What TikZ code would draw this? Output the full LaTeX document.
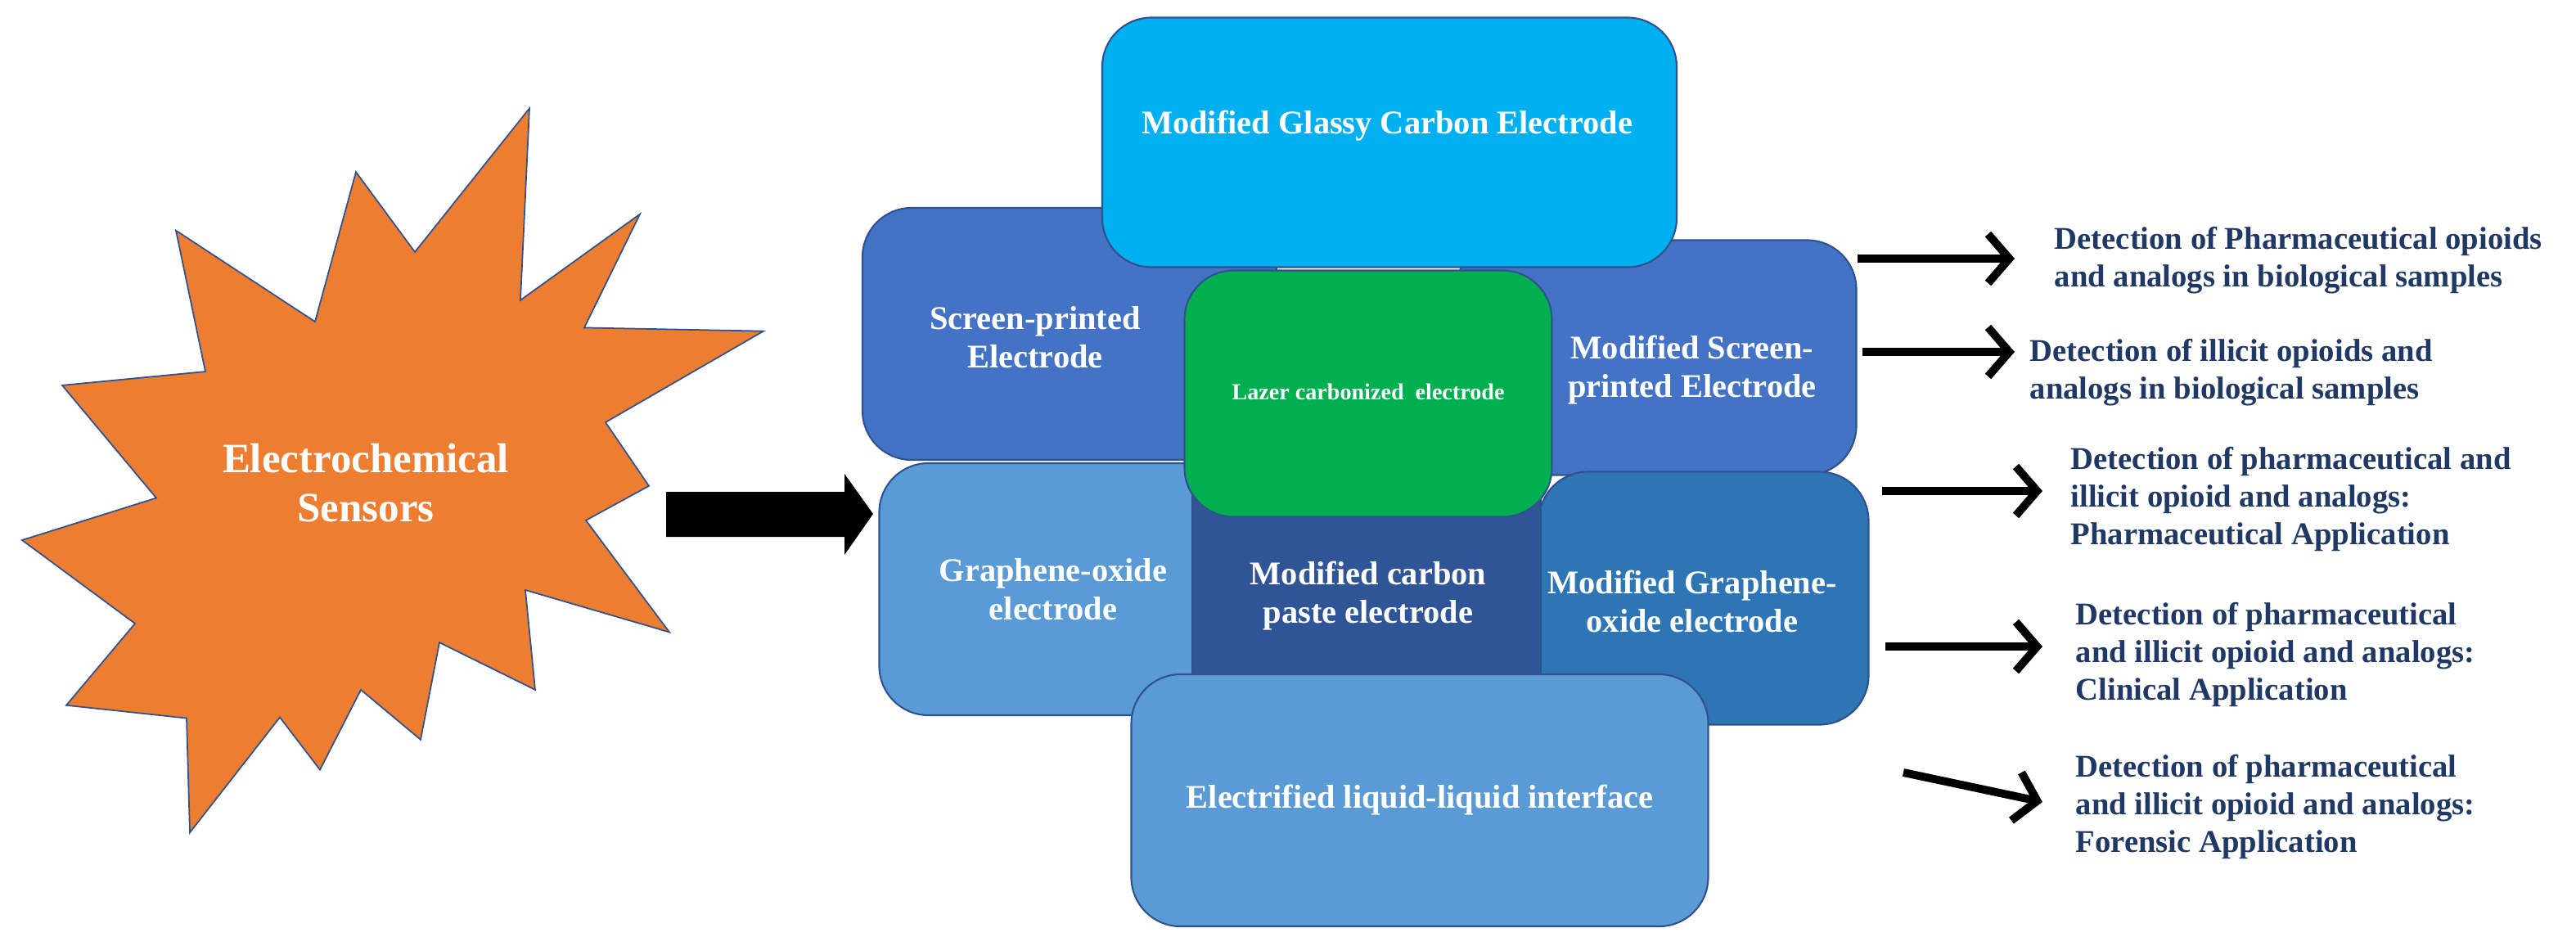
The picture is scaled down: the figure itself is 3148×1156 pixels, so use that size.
\documentclass[tikz,border=0pt]{standalone}
\usepackage{fontspec}
\setmainfont{Liberation Serif}
\usetikzlibrary{arrows.meta}
\definecolor{cGlassy}{HTML}{00B0F0}
\definecolor{cSP}{HTML}{4472C4}
\definecolor{cGreen}{HTML}{00B050}
\definecolor{cGO}{HTML}{5B9BD5}
\definecolor{cCP}{HTML}{2F5597}
\definecolor{cMGO}{HTML}{2E75B6}
\definecolor{cEdge}{HTML}{2F528F}
\definecolor{cStar}{HTML}{ED7D31}
\definecolor{cTxt}{HTML}{1F3864}
\begin{document}
\begin{tikzpicture}[x=0.1mm,y=-0.1mm,
 box/.style={draw=cEdge,line width=0.6pt,rounded corners=6mm,inner sep=0,outer sep=0},
 wt/.style={text=white,font=\bfseries\fontsize{11.5}{13.5}\selectfont,align=center},
 rt/.style={text=cTxt,font=\bfseries\fontsize{11}{13.2}\selectfont,align=left,anchor=west,inner sep=0},
 ar/.style={line width=2.8pt,-{Straight Barb[length=2.6mm,width=6mm,line width=2.8pt]}}]
\useasboundingbox (0,0) rectangle (3148,1156);
% star
\begin{scope}[yscale=1.051]
\filldraw[fill=cStar,draw=cEdge,line width=0.5pt] (647,126)--(636,349)--(782,249)--(714,381)--(933,385)--(740,491)--(793,565)--(716,605)--(818,735)--(642,686)--(654,802)--(537,747)--(514,860)--(441,802)--(391,895)--(342,834)--(232,968)--(228,835)--(81,820)--(165,725)--(27,628)--(191,579)--(76,448)--(251,432)--(215,268)--(385,374)--(435,200)--(507,293)--cycle;
\end{scope}
\node[text=white,font=\bfseries\fontsize{14.5}{17}\selectfont,align=center] (star) at (447,590) {Electrochemical\\Sensors};
% big arrow
\fill[black] (814,601)--(1032,601)--(1032,579)--(1067,628)--(1032,678)--(1032,656)--(814,656)--cycle;
% boxes
\node[box,fill=cSP,minimum width=50.6mm,minimum height=30.8mm] (sp) at (1307,408) {};
\node[box,fill=cSP,minimum width=48.9mm,minimum height=28.7mm] (msp) at (2024,437) {};
\node[box,fill=cGO,minimum width=48.5mm,minimum height=30.8mm] (go) at (1317,720) {};
\node[box,fill=cMGO,minimum width=40.3mm,minimum height=30.9mm] (mgo) at (2082,731) {};
\node[draw=cEdge,line width=0.6pt,fill=cCP,minimum width=42.5mm,minimum height=22.4mm,inner sep=0] (cp) at (1670,712) {};
\node[box,fill=cGlassy,minimum width=70.2mm,minimum height=30.5mm] (gl) at (1698,174) {};
\node[box,fill=cGreen,minimum width=44.9mm,minimum height=30.1mm] (lz) at (1672,481) {};
\node[box,fill=cGO,minimum width=70.5mm,minimum height=30.8mm] (el) at (1735,978) {};
% box texts
\node[wt] (tgl) at (1695,154) {Modified Glassy Carbon Electrode};
\node[wt] (tsp) at (1265,412) {Screen-printed\\Electrode};
\node[wt] (tmsp) at (2068,452) {Modified Screen-\\printed Electrode};
\node[text=white,font=\bfseries\fontsize{8}{10}\selectfont] (tlz) at (1672,479) {Lazer carbonized\ \ electrode};
\node[wt] (tgo) at (1287,720) {Graphene-oxide\\electrode};
\node[wt] (tcp) at (1672,728) {Modified carbon\\paste electrode};
\node[wt] (tmgo) at (2068,735) {Modified Graphene-\\oxide electrode};
\node[wt] (tel) at (1735,978) {Electrified liquid-liquid interface};
% right texts
\node[rt] (r1) at (2510,318) {Detection of Pharmaceutical opioids\\and analogs in biological samples};
\node[rt] (r2) at (2480,455) {Detection of illicit opioids and\\analogs in biological samples};
\node[rt] (r3) at (2530,610) {Detection of pharmaceutical and\\illicit opioid and analogs:\\Pharmaceutical Application};
\node[rt] (r4) at (2536,800) {Detection of pharmaceutical\\and illicit opioid and analogs:\\Clinical Application};
\node[rt] (r5) at (2536,986) {Detection of pharmaceutical\\and illicit opioid and analogs:\\Forensic Application};
% arrows
\coordinate (a1s) at (2270,316); \coordinate (a1e) at (2462,316);
\coordinate (a2s) at (2276,430); \coordinate (a2e) at (2462,430);
\coordinate (a3s) at (2300,600); \coordinate (a3e) at (2496,600);
\coordinate (a4s) at (2304,790); \coordinate (a4e) at (2496,790);
\coordinate (a5s) at (2326,944); \coordinate (a5e) at (2496,980);
\draw[ar] (a1s)--(a1e);
\draw[ar] (a2s)--(a2e);
\draw[ar] (a3s)--(a3e);
\draw[ar] (a4s)--(a4e);
\draw[ar] (a5s)--(a5e);
\end{tikzpicture}
\end{document}
